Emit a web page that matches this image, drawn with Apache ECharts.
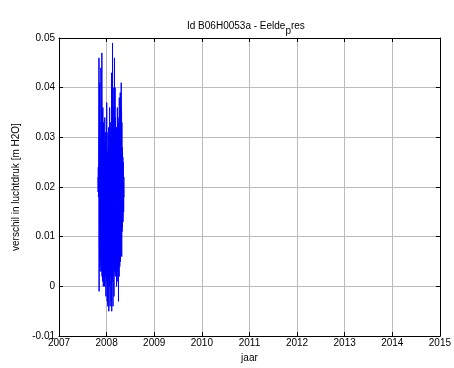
<!DOCTYPE html>
<html>
<head>
<meta charset="utf-8">
<script src="https://cdn.jsdelivr.net/npm/echarts@6/dist/echarts.min.js"></script>
<style>
  html, body { margin: 0; padding: 0; background: #fff; }
  #chart { width: 454px; height: 368px; }
</style>
</head>
<body>
<div id="chart"></div>
<script>
// x-as: jaartal, begin en stap van de meetreeks
var xTicks = [2007, 2008, 2009, 2010, 2011, 2012, 2013, 2014, 2015];
var yTicks = [-0.01, 0, 0.01, 0.02, 0.03, 0.04, 0.05];
var startJaar = 2007.819;
var stapJaar = 0.00339;

// verschil in luchtdruk [m H2O]
var verschil = [
  0.022, 0.019, 0.024, 0.018, 0.023, 0.021,
  0.046, -0.001, 0.030, 0.008, 0.041, 0.004,
  0.028, 0.003, 0.030, 0.006, 0.025, 0.010,
  0.044, 0.005, 0.033, 0.003, 0.038, 0.008,
  0.047, 0.002, 0.035, 0.006, 0.031, 0.001,
  0.036, 0.004, 0.029, 0.000, 0.033, 0.007,
  0.026, 0.002, 0.029, 0.005, 0.024, 0.000,
  0.034, 0.006, 0.028, 0.002, 0.031, 0.004,
  0.030, -0.002, 0.027, 0.005, 0.029, 0.001,
  0.037, 0.003, 0.031, -0.003, 0.026, 0.006,
  0.027, -0.004, 0.025, 0.002, 0.028, 0.005,
  0.032, -0.005, 0.029, 0.003, 0.024, 0.000,
  0.036, 0.004, 0.030, -0.004, 0.033, 0.006,
  0.030, 0.002, 0.027, -0.003, 0.029, 0.005,
  0.043, -0.005, 0.031, 0.003, 0.038, 0.001,
  0.049, 0.002, 0.036, -0.004, 0.040, 0.004,
  0.036, 0.005, 0.030, -0.002, 0.033, 0.007,
  0.046, 0.003, 0.034, 0.006, 0.040, 0.002,
  0.034, 0.005, 0.030, 0.003, 0.032, 0.008,
  0.032, 0.000, 0.028, 0.006, 0.030, 0.003,
  0.036, 0.004, 0.031, 0.001, 0.034, 0.007,
  0.033, -0.003, 0.029, 0.005, 0.031, 0.002,
  0.038, 0.006, 0.032, 0.004, 0.035, 0.009,
  0.039, 0.005, 0.034, 0.008, 0.036, 0.007,
  0.041, 0.010, 0.035, 0.006, 0.033, 0.011,
  0.028, 0.012, 0.027, 0.014, 0.026, 0.013,
  0.025, 0.016, 0.023, 0.015, 0.022, 0.018
];

var punten = verschil.map(function (v, i) {
  return [startJaar + i * stapJaar, v];
});

var font = 'Liberation Sans, Arial, sans-serif';

// gedeelde instellingen voor de vier kanten van het kader
function asStijl(extra) {
  var basis = {
    axisLine: { show: true, onZero: false, lineStyle: { color: '#000', width: 1 } },
    axisTick: { show: true, inside: true, length: 4, lineStyle: { color: '#000' } },
    splitLine: { show: false }
  };
  return Object.assign(basis, extra);
}

var option = {
  backgroundColor: '#fff',
  animation: false,
  title: {
    left: 182,
    top: 12,
    text: '{a|Id B06H0053a - Eelde}{s|p}{a|res}',
    textStyle: {
      fontWeight: 'normal',
      rich: {
        a: { fontFamily: font, fontSize: 10, fontWeight: 'normal', color: '#000' },
        s: { fontFamily: font, fontSize: 10, fontWeight: 'normal', color: '#000', padding: [9, 0, 0, 0] }
      }
    }
  },
  grid: { left: 59, right: 13, top: 38, bottom: 30 },
  xAxis: [
    asStijl({
      type: 'value',
      min: xTicks[0],
      max: xTicks[xTicks.length - 1],
      interval: 1,
      name: 'jaar',
      nameLocation: 'middle',
      nameGap: 14,
      nameTextStyle: { fontFamily: font, fontSize: 10, color: '#000' },
      axisLabel: {
        margin: 2, fontFamily: font, fontSize: 10, color: '#000',
        formatter: function (v) { return String(v); }
      },
      splitLine: { show: true, lineStyle: { color: '#bcbcbc', width: 1 } }
    }),
    asStijl({
      type: 'value', position: 'top',
      min: xTicks[0], max: xTicks[xTicks.length - 1], interval: 1,
      axisLabel: { show: false }
    })
  ],
  yAxis: [
    asStijl({
      type: 'value',
      min: yTicks[0],
      max: yTicks[yTicks.length - 1],
      interval: 0.01,
      name: 'verschil in luchtdruk [m H2O]',
      nameLocation: 'middle',
      nameGap: 37,
      nameTextStyle: { fontFamily: font, fontSize: 10, color: '#000' },
      axisLabel: {
        margin: 4, fontFamily: font, fontSize: 10, color: '#000',
        formatter: function (v) { return String(Math.round(v * 100) / 100); }
      },
      splitLine: { show: true, lineStyle: { color: '#bcbcbc', width: 1 } }
    }),
    asStijl({
      type: 'value', position: 'right',
      min: yTicks[0], max: yTicks[yTicks.length - 1], interval: 0.01,
      axisLabel: { show: false }
    })
  ],
  series: [
    {
      type: 'line',
      data: punten,
      showSymbol: false,
      lineStyle: { color: '#0000ff', width: 1 },
      z: 3
    }
  ]
};

var chart = echarts.init(document.getElementById('chart'));
chart.setOption(option);
</script>
</body>
</html>
